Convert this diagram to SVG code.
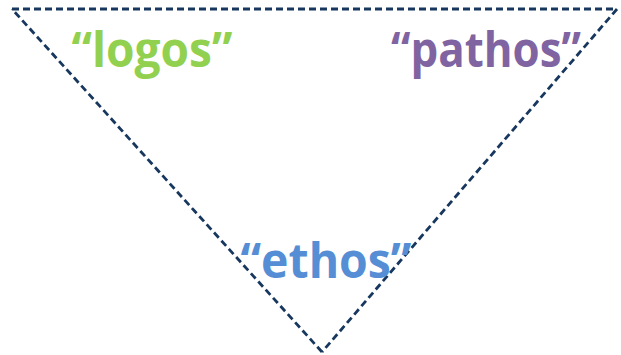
<svg xmlns="http://www.w3.org/2000/svg" width="621" height="355" viewBox="0 0 621 355">
<style>
.t{font-family:"Open Sans","Noto Sans","Liberation Sans",sans-serif;font-weight:bold;font-size:49px;text-anchor:middle}
.edge{fill:none;stroke:#17375E;stroke-width:2.8;stroke-dasharray:7 4}
</style>
<rect width="621" height="355" fill="#fff"/>
<g id="connectors">
<path class="edge" d="M12 9 L617 9"/>
<path class="edge" d="M617 9 L322 352"/>
<path class="edge" d="M322 352 L12 9"/>
</g>
<g id="logos"><text class="t" x="152" y="67" fill="#92D050" textLength="161" lengthAdjust="spacingAndGlyphs">“logos”</text></g>
<g id="pathos"><text class="t" x="486" y="67" fill="#8064A2" textLength="190" lengthAdjust="spacingAndGlyphs">“pathos”</text></g>
<g id="ethos"><text class="t" x="326" y="278" fill="#558ED5" textLength="171" lengthAdjust="spacingAndGlyphs">“ethos”</text></g>
</svg>
